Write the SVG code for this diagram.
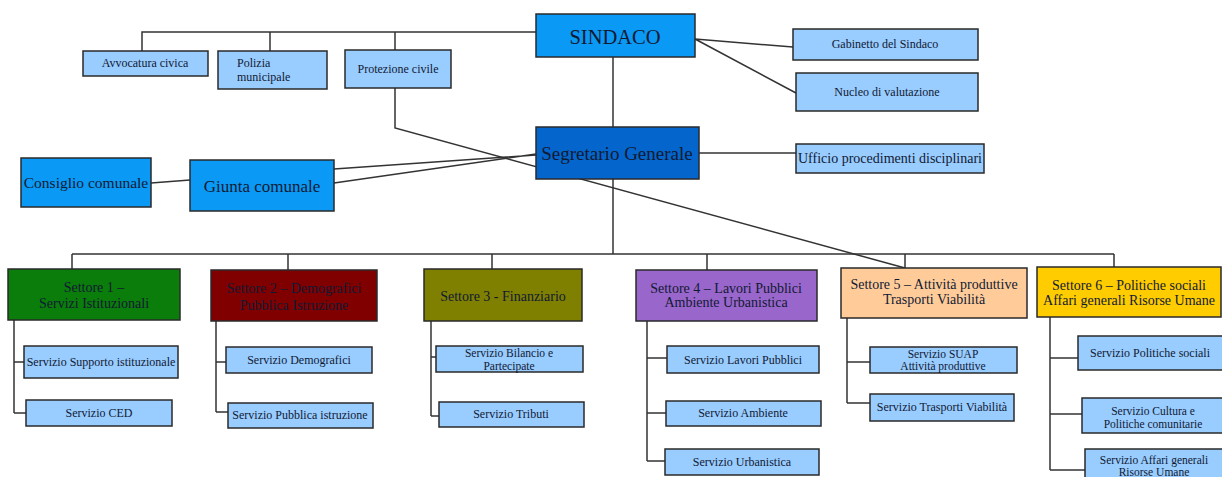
<svg xmlns="http://www.w3.org/2000/svg" width="1222" height="477" viewBox="0 0 1222 477">
<style>
  .ln { fill: none; stroke: #333; stroke-width: 1.5; }
  .box { stroke: #2a2a2a; stroke-width: 1.5; }
  .lb { fill: #99CCFF; }
  .t { font-family: "Liberation Serif", "DejaVu Serif", serif; fill: #111a33; text-anchor: middle; }
  .s11 { font-size: 12px; }
  .s10 { font-size: 11.5px; }
  .top { font-size: 12px; }
  .s12 { font-size: 14px; }
</style>
<rect width="1222" height="477" fill="#ffffff"/>
<g id="connectors">
  <path class="ln" d="M142 51 V32 H536 M270 32 V51 M395 32 V50"/>
  <path class="ln" d="M395 88 V128 L905 268"/>
  <path class="ln" d="M695 39 L793 47 M695 39 L796 93"/>
  <path class="ln" d="M613 57 V127"/>
  <path class="ln" d="M699 153 H796"/>
  <path class="ln" d="M151 183 L190 180"/>
  <path class="ln" d="M334 169 L536 155 M334 183 L536 154"/>
  <path class="ln" d="M613 179 V254"/>
  <path class="ln" d="M72 254 H1114 M72 254 V269 M288 254 V270 M492 254 V269 M707 254 V270 M905 254 V268 M1114 254 V267"/>
  <path class="ln" d="M14 320 V413 M14 362 H24 M14 413 H26"/>
  <path class="ln" d="M216 321 V412 M216 362 H226 M216 412 H228"/>
  <path class="ln" d="M431 321 V416 M431 357 H436 M431 416 H439"/>
  <path class="ln" d="M647 321 V461 M647 358 H667 M647 413 H666 M647 461 H665"/>
  <path class="ln" d="M847 318 V403 M847 362 H870 M847 403 H870"/>
  <path class="ln" d="M1050 317 V470 M1050 358 H1078 M1050 414 H1082 M1050 470 H1085"/>
</g>
<g id="sindaco">
  <rect class="box" x="536" y="14" width="159" height="43" fill="#0A99F5"/>
  <text class="t" x="615" y="44" font-size="20.5">SINDACO</text>
</g>
<g id="avvocatura">
  <rect class="box lb" x="83" y="51" width="125" height="25"/>
  <text class="t top" x="145" y="67">Avvocatura civica</text>
</g>
<g id="polizia">
  <rect class="box lb" x="218" y="51" width="109" height="38"/>
  <text class="t top" x="237" y="67" style="text-anchor:start">Polizia</text>
  <text class="t top" x="237" y="81" style="text-anchor:start">municipale</text>
</g>
<g id="protezione">
  <rect class="box lb" x="345" y="50" width="106" height="38"/>
  <text class="t top" x="398" y="73">Protezione civile</text>
</g>
<g id="gabinetto">
  <rect class="box lb" x="793" y="29" width="185" height="31"/>
  <text class="t top" x="885" y="48">Gabinetto del Sindaco</text>
</g>
<g id="nucleo">
  <rect class="box lb" x="796" y="73" width="182" height="38"/>
  <text class="t top" x="887" y="96">Nucleo di valutazione</text>
</g>
<g id="segretario">
  <rect class="box" x="536" y="127" width="163" height="52" fill="#0466CC"/>
  <text class="t" x="617" y="160" font-size="19">Segretario Generale</text>
</g>
<g id="ufficio">
  <rect class="box lb" x="796" y="144" width="188" height="29"/>
  <text class="t" x="890" y="163" font-size="14">Ufficio procedimenti disciplinari</text>
</g>
<g id="consiglio">
  <rect class="box" x="21" y="158" width="130" height="49" fill="#0A99F5"/>
  <text class="t" x="86" y="188" font-size="15.5">Consiglio comunale</text>
</g>
<g id="giunta">
  <rect class="box" x="190" y="160" width="144" height="51" fill="#0A99F5"/>
  <text class="t" x="262" y="192" font-size="17">Giunta comunale</text>
</g>
<g id="settore1">
  <rect class="box" x="8" y="269" width="172" height="51" fill="#0B7D0B"/>
  <text class="t s12" x="94" y="292">Settore 1 –</text>
  <text class="t s12" x="94" y="308">Servizi Istituzionali</text>
</g>
<g id="settore2">
  <rect class="box" x="211" y="270" width="166" height="51" fill="#800000"/>
  <text class="t s12" x="294" y="293">Settore 2 – Demografici</text>
  <text class="t s12" x="294" y="310">Pubblica Istruzione</text>
</g>
<g id="settore3">
  <rect class="box" x="424" y="269" width="158" height="52" fill="#7F7F00"/>
  <text class="t s12" x="503" y="301">Settore 3 - Finanziario</text>
</g>
<g id="settore4">
  <rect class="box" x="636" y="270" width="181" height="51" fill="#9966CC"/>
  <text class="t s12" x="726" y="293">Settore 4 – Lavori Pubblici</text>
  <text class="t s12" x="726" y="307">Ambiente Urbanistica</text>
</g>
<g id="settore5">
  <rect class="box" x="841" y="268" width="186" height="50" fill="#FFCC99"/>
  <text class="t s12" x="934" y="289">Settore 5 – Attività produttive</text>
  <text class="t s12" x="934" y="304">Trasporti Viabilità</text>
</g>
<g id="settore6">
  <rect class="box" x="1037" y="267" width="184" height="50" fill="#FFCC00"/>
  <text class="t s12" x="1129" y="290">Settore 6 – Politiche sociali</text>
  <text class="t s12" x="1129" y="305">Affari generali Risorse Umane</text>
</g>
<g id="supporto">
  <rect class="box lb" x="24" y="346" width="154" height="32"/>
  <text class="t s11" x="101" y="366">Servizio Supporto istituzionale</text>
</g>
<g id="ced">
  <rect class="box lb" x="26" y="400" width="146" height="26"/>
  <text class="t s11" x="99" y="417">Servizio CED</text>
</g>
<g id="demografici">
  <rect class="box lb" x="226" y="347" width="146" height="26"/>
  <text class="t s11" x="299" y="364">Servizio Demografici</text>
</g>
<g id="istruzione">
  <rect class="box lb" x="228" y="403" width="145" height="25"/>
  <text class="t s11" x="300" y="419">Servizio Pubblica istruzione</text>
</g>
<g id="bilancio">
  <rect class="box lb" x="436" y="346" width="147" height="26"/>
  <text class="t s10" x="509" y="357">Servizio Bilancio e</text>
  <text class="t s10" x="509" y="370">Partecipate</text>
</g>
<g id="tributi">
  <rect class="box lb" x="439" y="402" width="145" height="25"/>
  <text class="t s11" x="511" y="418">Servizio Tributi</text>
</g>
<g id="lavori">
  <rect class="box lb" x="667" y="346" width="152" height="27"/>
  <text class="t s11" x="743" y="364">Servizio Lavori Pubblici</text>
</g>
<g id="ambiente">
  <rect class="box lb" x="666" y="401" width="155" height="25"/>
  <text class="t s11" x="743" y="417">Servizio Ambiente</text>
</g>
<g id="urbanistica">
  <rect class="box lb" x="665" y="449" width="154" height="26"/>
  <text class="t s11" x="742" y="466">Servizio Urbanistica</text>
</g>
<g id="suap">
  <rect class="box lb" x="870" y="347" width="147" height="26"/>
  <text class="t s10" x="943" y="358">Servizio SUAP</text>
  <text class="t s10" x="943" y="370">Attività produttive</text>
</g>
<g id="trasporti">
  <rect class="box lb" x="870" y="394" width="144" height="27"/>
  <text class="t s11" x="942" y="411">Servizio Trasporti Viabilità</text>
</g>
<g id="politiche">
  <rect class="box lb" x="1078" y="336" width="146" height="34"/>
  <text class="t s11" x="1150" y="357">Servizio Politiche sociali</text>
</g>
<g id="cultura">
  <rect class="box lb" x="1082" y="398" width="142" height="35"/>
  <text class="t s10" x="1153" y="415">Servizio Cultura e</text>
  <text class="t s10" x="1153" y="428">Politiche comunitarie</text>
</g>
<g id="affari">
  <rect class="box lb" x="1085" y="449" width="139" height="32"/>
  <text class="t s10" x="1154" y="464">Servizio Affari generali</text>
  <text class="t s10" x="1154" y="476">Risorse Umane</text>
</g>
</svg>
